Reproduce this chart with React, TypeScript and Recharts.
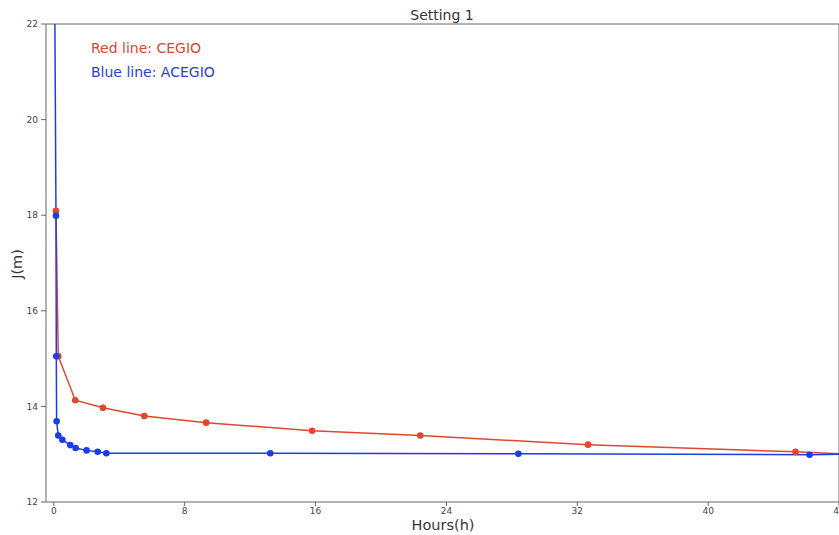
import { Line, LineChart, ReferenceLine, XAxis, YAxis } from "recharts";

const RED = "#e2462e";
const BLUE = "#1c3de6";
const AXIS = "#666";
const FONT = "'DejaVu Sans', sans-serif";

// CEGIO (red) — hours vs J(m)
const cegioHours = [0.13, 0.27, 1.31, 3.0, 5.53, 9.31, 15.79, 22.4, 32.66, 45.34, 49];
const cegioJ = [18.09, 15.05, 14.13, 13.97, 13.8, 13.66, 13.49, 13.39, 13.2, 13.05, 12.995];

// ACEGIO (blue)
const acegioHours = [0, 0.13, 0.15, 0.17, 0.27, 0.52, 1.0, 1.33, 2.0, 2.68, 3.21, 13.23, 28.4, 46.2, 49];
const acegioJ = [26, 17.99, 15.05, 13.69, 13.39, 13.3, 13.19, 13.13, 13.08, 13.05, 13.02, 13.02, 13.01, 12.99, 13.0];

const X_TICKS = [0, 8, 16, 24, 32, 40, 48];
const Y_TICKS = [12, 14, 16, 18, 20, 22];

const redData = cegioHours.map((x, i) => ({ x, y: cegioJ[i] }));
const blueData = acegioHours.map((x, i) => ({ x, y: acegioJ[i] }));

export default function App() {
  return (
    <div
      style={{
        position: "fixed",
        left: 0,
        top: 0,
        width: 839,
        height: 535,
        overflow: "hidden",
        background: "#fff",
        fontFamily: FONT,
      }}
    >
      <LineChart
        width={880}
        height={535}
        margin={{ top: 24, right: 41, bottom: 0, left: 0 }}
        style={{ fontFamily: FONT }}
      >
        <XAxis
          type="number"
          dataKey="x"
          domain={[-0.48, 48]}
          ticks={X_TICKS}
          allowDataOverflow
          height={33}
          stroke={AXIS}
          tickSize={4}
          tickMargin={2}
          tick={{ fontSize: 9, fill: "#444" }}
        />
        <YAxis
          type="number"
          dataKey="y"
          domain={[12, 22]}
          ticks={Y_TICKS}
          allowDataOverflow
          width={46}
          stroke={AXIS}
          tickSize={5}
          tickMargin={3}
          tick={{ fontSize: 9, fill: "#444" }}
        />
        <ReferenceLine y={22} stroke={AXIS} ifOverflow="visible" />
        <ReferenceLine x={48} stroke={AXIS} ifOverflow="visible" />
        <Line
          data={redData}
          dataKey="y"
          type="linear"
          stroke={RED}
          strokeWidth={1.5}
          dot={{ r: 3.3, fill: RED, stroke: RED, strokeWidth: 0 }}
          isAnimationActive={false}
        />
        <Line
          data={blueData}
          dataKey="y"
          type="linear"
          stroke={BLUE}
          strokeWidth={1.5}
          dot={{ r: 3.3, fill: BLUE, stroke: BLUE, strokeWidth: 0 }}
          isAnimationActive={false}
        />
      </LineChart>

      <div style={{ position: "absolute", left: 442, top: 15, transform: "translate(-50%, -50%)", fontSize: 14, color: "#333", whiteSpace: "nowrap" }}>
        Setting 1
      </div>
      <div style={{ position: "absolute", left: 443, top: 525, transform: "translate(-50%, -50%)", fontSize: 14.5, color: "#333", whiteSpace: "nowrap" }}>
        Hours(h)
      </div>
      <div style={{ position: "absolute", left: 17, top: 264, transform: "translate(-50%, -50%) rotate(-90deg)", fontSize: 14.5, color: "#333", whiteSpace: "nowrap" }}>
        J(m)
      </div>
      <div style={{ position: "absolute", left: 91, top: 48, transform: "translateY(-50%)", fontSize: 14, color: "#d9472f", whiteSpace: "nowrap" }}>
        Red line: CEGIO
      </div>
      <div style={{ position: "absolute", left: 91, top: 72, transform: "translateY(-50%)", fontSize: 14, color: "#2a40d6", whiteSpace: "nowrap" }}>
        Blue line: ACEGIO
      </div>
    </div>
  );
}
